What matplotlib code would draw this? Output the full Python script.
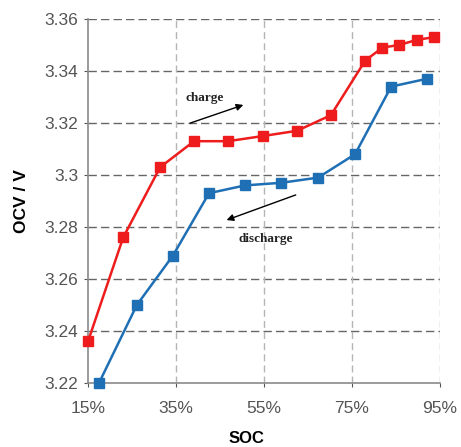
import matplotlib.pyplot as plt

# charge / discharge OCV curves
soc_charge = [15, 23, 31.4, 39.1, 46.8, 54.8, 62.5, 70.2, 78, 81.9, 85.7, 89.8, 93.6]
ocv_charge = [3.236, 3.276, 3.303, 3.313, 3.313, 3.315, 3.317, 3.323, 3.344, 3.349, 3.350, 3.352, 3.353]

soc_discharge = [17.5, 26.1, 34.3, 42.5, 50.7, 58.9, 67.3, 75.7, 83.9, 92.0]
ocv_discharge = [3.220, 3.250, 3.269, 3.293, 3.296, 3.297, 3.299, 3.308, 3.334, 3.337]

x_ticks = [15, 35, 55, 75, 95]
x_ticklabels = ["15%", "35%", "55%", "75%", "95%"]
y_ticks = [3.22, 3.24, 3.26, 3.28, 3.30, 3.32, 3.34, 3.36]
y_ticklabels = ["3.22", "3.24", "3.26", "3.28", "3.3", "3.32", "3.34", "3.36"]

plt.rcParams['font.family'] = ['Liberation Sans', 'DejaVu Sans']

fig = plt.figure(figsize=(4.61, 4.47), dpi=100)
ax = fig.add_axes([88 / 461, 1 - 383 / 447, 352 / 461, 364 / 447])

ax.plot(soc_charge, ocv_charge, color='#ee1c1c', lw=1.8, marker='s', ms=6.5, zorder=3, clip_on=False)
ax.plot(soc_discharge, ocv_discharge, color='#1f6fb5', lw=1.8, marker='s', ms=6.5, zorder=3, clip_on=False)

ax.set_xlim(15, 95)
ax.set_ylim(3.22, 3.36)
ax.set_xticks(x_ticks)
ax.set_xticklabels(x_ticklabels)
ax.set_yticks(y_ticks)
ax.set_yticklabels(y_ticklabels)
ax.tick_params(axis='both', labelsize=12.5, colors='#555555', length=3, width=0.8)
ax.tick_params(axis='x', pad=10)
ax.tick_params(axis='y', pad=4)

# grid: dark dashed horizontals, light dashed verticals
for y in y_ticks[1:]:
    ax.axhline(y, color='#666666', lw=1.0, ls=(0, (6, 3)), zorder=1)
for x in x_ticks[1:]:
    ax.axvline(x, color='#b5b5b5', lw=1.0, ls=(0, (5, 3)), zorder=1)

for side in ['top', 'right']:
    ax.spines[side].set_visible(False)
ax.spines['left'].set_color('#8a8a8a')
ax.spines['bottom'].set_color('#8a8a8a')
ax.spines['left'].set_linewidth(1.2)
ax.spines['bottom'].set_linewidth(1.2)

ax.set_xlabel("SOC", fontsize=12, fontweight='bold')
ax.xaxis.set_label_coords(0.45, -0.133)
ax.set_ylabel("OCV / V", fontsize=12.5, fontweight='bold', va='center')
ax.yaxis.set_label_coords(-0.19, 0.5)

# annotations
ax.annotate("", xy=(50.9, 3.3273), xytext=(37.6, 3.3196),
            arrowprops=dict(arrowstyle='-|>', color='black', lw=1.0, mutation_scale=10))
ax.text(41.5, 3.3296, "charge", family=['Liberation Serif', 'DejaVu Serif'], fontsize=9.5,
        fontweight='bold', ha='center', va='center', color='#222222')
ax.annotate("", xy=(45.9, 3.2823), xytext=(62.8, 3.2927),
            arrowprops=dict(arrowstyle='-|>', color='black', lw=1.0, mutation_scale=10))
ax.text(55.5, 3.2754, "discharge", family=['Liberation Serif', 'DejaVu Serif'], fontsize=9.5,
        fontweight='bold', ha='center', va='center', color='#222222')

plt.savefig("out.png", dpi=100)
plt.close()
